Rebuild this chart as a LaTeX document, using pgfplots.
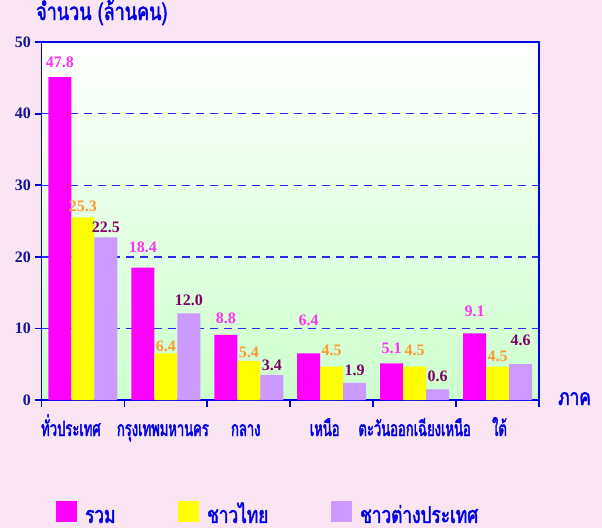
\documentclass[border=0pt]{standalone}
\usepackage{fontspec}
\setmainfont{Liberation Serif}
\newfontfamily\thaitick[Script=Thai, FakeStretch=0.62, FakeBold=2]{Loma}
\newfontfamily\thaileg[Script=Thai, FakeStretch=0.75, FakeBold=2]{Loma}
\usepackage{pgfplots}
\usepackage{pgfplotstable}
\pgfplotsset{compat=1.18}
\definecolor{bg}{RGB}{249,230,242}
\definecolor{cmag}{RGB}{255,0,255}
\definecolor{cyel}{RGB}{255,255,0}
\definecolor{clav}{RGB}{204,153,255}
\definecolor{lmag}{RGB}{255,51,238}
\definecolor{lora}{RGB}{255,153,51}
\definecolor{lpur}{RGB}{128,0,102}
\definecolor{cblue}{RGB}{0,0,230}
\definecolor{gblue}{RGB}{40,40,240}
\definecolor{nblue}{RGB}{20,20,150}
\definecolor{gbot}{RGB}{204,255,204}

\pgfplotstableread{
x v lab off
0 45.1 47.8 15
1 18.5 18.4 20
2 9.1 8.8 17
3 6.5 6.4 33
4 5.1 5.1 15
5 9.3 9.1 22
}\tot
\pgfplotstableread{
x v lab off
0 25.5 25.3 11
1 6.5 6.4 7
2 5.45 5.4 9
3 4.65 4.5 16
4 4.65 4.5 16
5 4.65 4.5 10
}\thai
\pgfplotstableread{
x v lab off
0 22.7 22.5 10
1 12.1 12.0 13
2 3.5 3.4 10
3 2.4 1.9 13
4 1.5 0.6 13
5 5.0 4.6 24
}\fore

\newcommand{\legtext}[1]{\rule{0pt}{21pt}\smash{\raisebox{9pt}{\textcolor{cblue}{#1}}}}

\begin{document}
\begin{tikzpicture}[x=1pt,y=1pt]
\fill[bg] (0,0) rectangle (602,528);
\begin{axis}[
  at={(41.5pt,128pt)}, anchor=south west, scale only axis,
  width=497.5pt, height=358pt,
  ybar=0pt, bar width=23pt,
  xmin=-0.5, xmax=5.5, ymin=0, ymax=50,
  ytick={0,10,...,50},
  xtick={-0.5,0.5,...,5.5}, xticklabels={},
  extra x ticks={-0.145,0.964,1.964,2.916,4.0,5.024},
  extra x tick labels={ทั่วประเทศ,กรุงเทพมหานคร,กลาง,เหนือ,ตะวันออกเฉียงเหนือ,ใต้},
  extra x tick style={major tick length=0pt, grid=none,
    tick label style={font=\thaitick\fontsize{21}{24}\selectfont, text=cblue,
      anchor=base, inner sep=0pt, yshift=-36pt}},
  tick pos=left, tick align=outside, major tick length=7pt,
  axis line style={cblue, line width=1.8pt},
  every tick/.style={cblue, line width=1.8pt},
  ymajorgrids, grid style={gblue, dash pattern=on 8pt off 6pt, line width=1.4pt},
  axis background/.style={top color=white, bottom color=gbot},
  yticklabel style={font=\bfseries\fontsize{16}{16}\selectfont, text=nblue},
  /pgf/number format/assume math mode=true,
  title={จำนวน (ล้านคน)},
  title style={at={(-0.011,1)}, anchor=base west, yshift=16pt, inner sep=0pt,
    font=\thaileg\fontsize{24}{27}\selectfont, text=cblue},
  xlabel={ภาค},
  xlabel style={at={(1,0)}, anchor=base west, xshift=19pt, yshift=-5pt, inner sep=0pt,
    font=\thaileg\fontsize{23}{26}\selectfont, text=cblue},
  nodes near coords, point meta=explicit symbolic,
  visualization depends on={\thisrow{off}\as\myoff},
  nodes near coords style={anchor=center, yshift=\myoff pt, font=\bfseries\fontsize{16}{16}\selectfont},
  legend columns=3,
  legend style={draw=none, fill=none, at={(0.029,-0.282)}, anchor=north west, inner sep=0pt,
    nodes={inner sep=0pt},
    font=\thaileg\fontsize{23}{26}\selectfont,
    /tikz/every even column/.append style={column sep=0pt},
    /tikz/every odd column/.append style={column sep=0pt}},
]
\addplot[fill=cmag, draw=none, nodes near coords style={text=lmag},
  legend image code/.code={\fill[cmag] (0pt,0pt) rectangle (21pt,21pt);}]
  table[x=x, y=v, meta=lab] {\tot};
\addplot[fill=cyel, draw=none, nodes near coords style={text=lora},
  legend image code/.code={\fill[cyel] (0pt,0pt) rectangle (21pt,21pt);}]
  table[x=x, y=v, meta=lab] {\thai};
\addplot[fill=clav, draw=none, nodes near coords style={text=lpur},
  legend image code/.code={\fill[clav] (0pt,0pt) rectangle (21pt,21pt);}]
  table[x=x, y=v, meta=lab] {\fore};
\legend{\hspace{8pt}\makebox[93pt][l]{\legtext{รวม}},\hspace{8pt}\makebox[124pt][l]{\legtext{ชาวไทย}},\hspace{8pt}\legtext{ชาวต่างประเทศ}}
\end{axis}
\pgfresetboundingbox
\path (0,0) rectangle (602,528);
\end{tikzpicture}
\end{document}
